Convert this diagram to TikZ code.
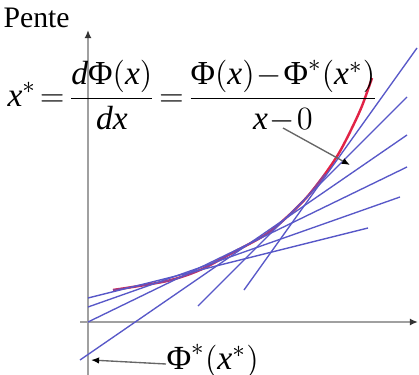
\documentclass[tikz,border=0pt]{standalone}
\usepackage{fontspec}
\setmainfont{Liberation Serif}
\usetikzlibrary{arrows.meta,positioning}
\definecolor{tanblue}{RGB}{88,88,200}
\definecolor{curvered}{RGB}{225,35,70}
\definecolor{axisgray}{RGB}{160,160,160}
\newcommand{\vx}{\mbox{\itshape x}}
\newcommand{\vd}{\mbox{\itshape d}}
\newcommand{\vPhi}{\mbox{Φ}}

\begin{document}
\begin{tikzpicture}[x=0.37pt,y=-0.37pt,
    axis/.style={draw=axisgray,line width=0.9pt,-{Latex[length=3pt,width=2.6pt,black!80]}},
    tangent/.style={draw=tanblue,line width=0.5pt},
    pointer/.style={draw=black!60,line width=0.5pt,-{Latex[length=3pt,width=2.4pt,black]}}]
  % \draw[color=gray,step=20,help lines,opacity=0.3] (0,0) grid (419,375); %help grid
  \useasboundingbox (0,0) rectangle (419,375);
  % axes
  \coordinate (o) at (88,322);
  \draw[axis] (88,375) -- (88,30);
  \draw[axis] (80,322) -- (418,322);
  % the curve
  \draw[curvered,line width=0.9pt] plot[smooth] coordinates
    {(113,290) (167,281) (200,270) (232,253) (265,235) (287,217) (307,197) (325,174) (339,153) (351,130) (362,106) (372,78)};
  \draw[tanblue,line width=0.6pt,opacity=0.6] plot[smooth] coordinates
    {(113,290) (167,281) (200,270) (232,253) (265,235) (287,217) (307,197) (325,174)};
  % tangents
  \coordinate (t1a) at (88,298);  \coordinate (t1b) at (368,228);
  \coordinate (t2a) at (88,307);  \coordinate (t2b) at (400,197);
  \coordinate (t3a) at (o);       \coordinate (t3b) at (407,167);
  \coordinate (t4a) at (80,360);  \coordinate (t4b) at (407,135);
  \coordinate (t5a) at (198,306); \coordinate (t5b) at (407,97);
  \coordinate (t6a) at (244,290); \coordinate (t6b) at (417,48);
  \foreach \i in {1,...,6}
    \draw[tangent] (t\i a) -- (t\i b);
  % texts
  \node[anchor=base west,inner sep=0pt] (pente) at (3,28) {\fontsize{11}{13}\selectfont Pente};
  \node[anchor=west,inner sep=0pt] (eq) at (7,96) {\fontsize{12.4}{15}\selectfont
    \thickmuskip=2mu \medmuskip=1mu
    $\displaystyle \vx^{*}=\frac{\vd\vPhi(\vx)}{\vd\vx}=\frac{\vPhi(\vx)-\vPhi^{*}\bigl(\vx^{*}\bigr)}{\vx-0}$};
  \node[anchor=base west,inner sep=0pt] (phi) at (166,369) {\fontsize{12.5}{14}\selectfont
    $\vPhi^{*}\bigl(\vx^{*}\bigr)$};
  % pointers
  \coordinate (slope) at (283,128);
  \coordinate (touch) at (350,165);
  \coordinate (yint) at (91,360);
  \draw[pointer] (slope) -- (touch);
  \draw[pointer] (phi.west |- 0,364) -- (yint);
\end{tikzpicture}
\end{document}
